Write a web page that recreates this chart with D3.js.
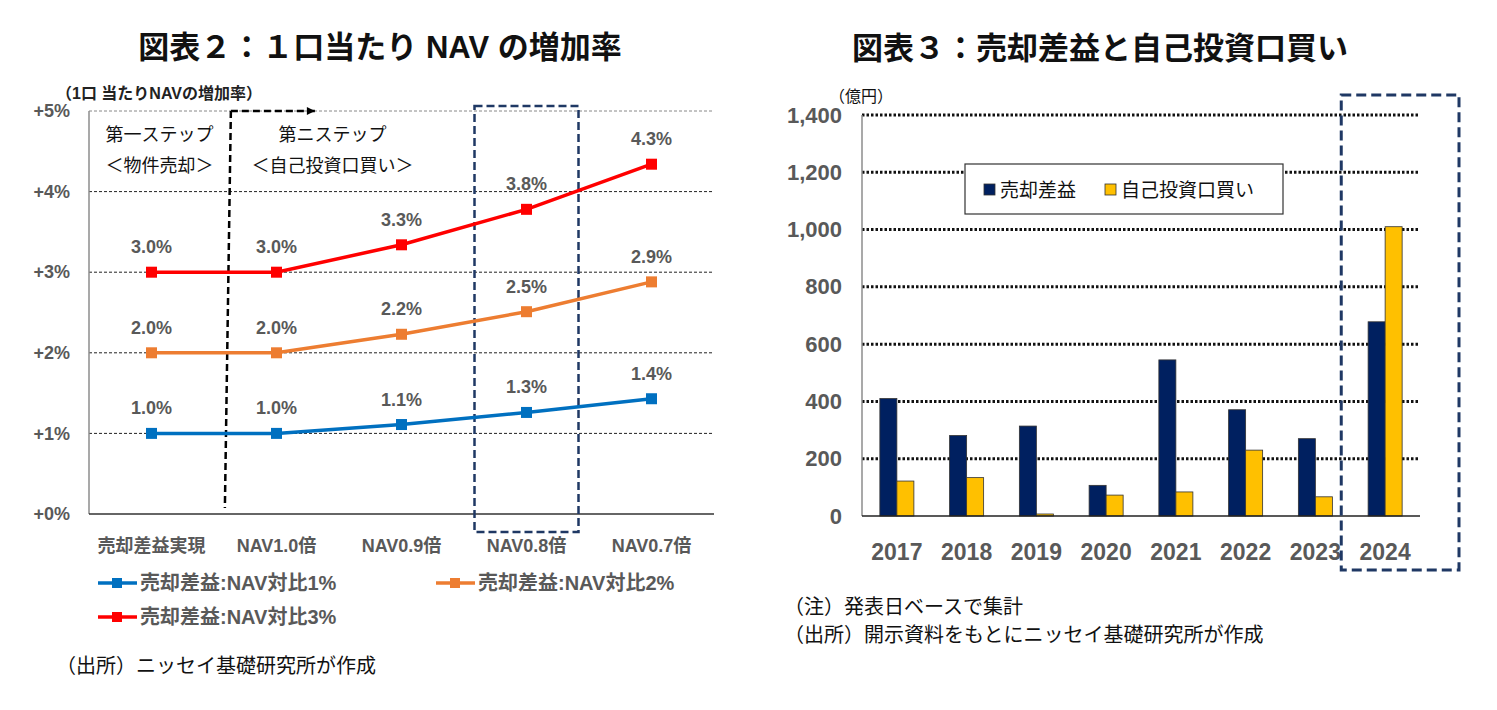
<!DOCTYPE html>
<html>
<head>
<meta charset="utf-8">
<script src="https://cdn.jsdelivr.net/npm/d3@7"></script>
<style>
  body { margin: 0; background: #fff; }
  text { font-family: "Liberation Sans", "Noto Sans CJK JP", sans-serif; }
</style>
</head>
<body>
<div id="chart"></div>
<script>
// left chart: NAV per unit increase
const stepCats = ["売却差益実現", "NAV1.0倍", "NAV0.9倍", "NAV0.8倍", "NAV0.7倍"];
const seriesNames = ["売却差益:NAV対比1%", "売却差益:NAV対比2%", "売却差益:NAV対比3%"];
const rate1 = [1.0, 1.0, 1.11, 1.26, 1.43];
const rate2 = [2.0, 2.0, 2.23, 2.51, 2.88];
const rate3 = [3.0, 3.0, 3.34, 3.78, 4.34];
const pctTicks = [0, 1, 2, 3, 4, 5];

// right chart: gain on sale vs buyback (億円)
const years = ["2017", "2018", "2019", "2020", "2021", "2022", "2023", "2024"];
const barNames = ["売却差益", "自己投資口買い"];
const gainOnSale = [410, 281, 314, 107, 545, 371, 270, 678];
const buyback = [122, 134, 7, 73, 84, 230, 67, 1010];
const yenTicks = [0, 200, 400, 600, 800, 1000, 1200, 1400];

const gray = "#595959";
const navy = "#1f3864";

const svg = d3.select("#chart").append("svg")
  .attr("width", 1497)
  .attr("height", 710);

svg.append("defs").append("marker")
  .attr("id", "arrow")
  .attr("viewBox", "0 0 10 10")
  .attr("refX", 10).attr("refY", 5)
  .attr("markerWidth", 10).attr("markerHeight", 8)
  .attr("markerUnits", "userSpaceOnUse")
  .attr("orient", "auto")
  .append("path").attr("d", "M0,0L10,5L0,10Z").attr("fill", "#000");

//---------------- LEFT CHART ----------------
const L = { left: 89, right: 714, top: 111, bottom: 514 };

svg.append("text")
  .attr("x", 380).attr("y", 58)
  .attr("text-anchor", "middle")
  .attr("font-size", 31).attr("font-weight", "bold")
  .attr("fill", "#111")
  .text("図表２：１口当たり NAV の増加率");

const xL = d3.scalePoint().domain(stepCats).range([L.left, L.right]).padding(0.5);
const yL = d3.scaleLinear().domain([0, 5]).range([L.bottom, L.top]);

// gridlines
svg.append("g").selectAll("line")
  .data(pctTicks.filter(d => d > 0))
  .join("line")
  .attr("x1", L.left).attr("x2", L.right)
  .attr("y1", d => yL(d)).attr("y2", d => yL(d))
  .attr("stroke", d => d == 5 ? "#888" : "#222")
  .attr("stroke-width", 1)
  .attr("stroke-dasharray", "3,2");

// axes lines
svg.append("line")
  .attr("x1", L.left).attr("x2", L.left)
  .attr("y1", yL(5)).attr("y2", yL(0))
  .attr("stroke", "#8c8c8c").attr("stroke-width", 1.5);
svg.append("line")
  .attr("x1", L.left).attr("x2", L.right)
  .attr("y1", yL(0)).attr("y2", yL(0))
  .attr("stroke", "#333").attr("stroke-width", 1.5);

const yAxisL = d3.axisLeft(yL).tickValues(pctTicks).tickSize(0).tickPadding(19)
  .tickFormat(d => "+" + d + "%");
svg.append("g")
  .attr("transform", "translate(" + L.left + ",0)")
  .call(yAxisL)
  .call(g => g.select(".domain").remove())
  .selectAll("text")
  .attr("font-size", 18).attr("font-weight", "bold").attr("fill", gray)
  .attr("font-family", "Liberation Sans, Noto Sans CJK JP");

svg.selectAll(".xlab")
  .data(stepCats)
  .join("text")
  .attr("class", "xlab")
  .attr("x", d => xL(d)).attr("y", 552)
  .attr("text-anchor", "middle")
  .attr("font-size", 18).attr("font-weight", "bold").attr("fill", gray)
  .text(d => d);

svg.append("text")
  .attr("x", 56).attr("y", 99)
  .attr("font-size", 16).attr("font-weight", "bold").attr("fill", "#222")
  .text("（1口 当たりNAVの増加率）");

// step annotations
const stepX = xL(stepCats[0]) + xL.step() * 0.635;
svg.append("line")
  .attr("x1", stepX).attr("y1", yL(5))
  .attr("x2", stepX - 6).attr("y2", yL(0) - 6)
  .attr("stroke", "#000").attr("stroke-width", 2.5)
  .attr("stroke-dasharray", "7,4");
svg.append("line")
  .attr("x1", stepX).attr("y1", yL(5))
  .attr("x2", stepX + 84).attr("y2", yL(5))
  .attr("stroke", "#000").attr("stroke-width", 2.5)
  .attr("stroke-dasharray", "7,4")
  .attr("marker-end", "url(#arrow)");

const stepTexts = [
  ["第一ステップ", "＜物件売却＞", xL(stepCats[0]) + 8],
  ["第ニステップ", "＜自己投資口買い＞", xL(stepCats[1]) + 56]
];
stepTexts.forEach(s => {
  svg.append("text").attr("x", s[2]).attr("y", 141)
    .attr("text-anchor", "middle").attr("font-size", 18).attr("fill", "#111").text(s[0]);
  svg.append("text").attr("x", s[2]).attr("y", 172)
    .attr("text-anchor", "middle").attr("font-size", 18).attr("fill", "#111").text(s[1]);
});

// highlight box around NAV0.8倍
svg.append("rect")
  .attr("x", xL("NAV0.8倍") - 52).attr("y", yL(5) - 5)
  .attr("width", 104).attr("height", 532 - yL(5) + 5)
  .attr("fill", "none").attr("stroke", navy).attr("stroke-width", 2.5)
  .attr("stroke-dasharray", "8,4");

// lines
const seriesL = [
  { name: seriesNames[0], values: rate1, color: "#0070c0" },
  { name: seriesNames[1], values: rate2, color: "#ed7d31" },
  { name: seriesNames[2], values: rate3, color: "#ff0000" }
];
const line = d3.line().x((d, i) => xL(stepCats[i])).y(d => yL(d));

seriesL.forEach(s => {
  svg.append("path")
    .attr("d", line(s.values))
    .attr("fill", "none").attr("stroke", s.color).attr("stroke-width", 3.5);
  svg.append("g").selectAll("rect")
    .data(s.values)
    .join("rect")
    .attr("x", (d, i) => xL(stepCats[i]) - 5.5)
    .attr("y", d => yL(d) - 5.5)
    .attr("width", 11).attr("height", 11)
    .attr("fill", s.color);
  svg.append("g").selectAll("text")
    .data(s.values)
    .join("text")
    .attr("x", (d, i) => xL(stepCats[i]))
    .attr("y", d => yL(d) - 19)
    .attr("text-anchor", "middle")
    .attr("font-size", 18).attr("font-weight", "bold").attr("fill", gray)
    .text(d => d3.format(".1f")(d) + "%");
});

// legend
const legPos = [[98, 583], [436, 583], [98, 617]];
seriesL.forEach((s, i) => {
  const g = svg.append("g").attr("transform", "translate(" + legPos[i][0] + "," + legPos[i][1] + ")");
  g.append("line").attr("x1", 0).attr("x2", 39).attr("y1", 0).attr("y2", 0)
    .attr("stroke", s.color).attr("stroke-width", 3.5);
  g.append("rect").attr("x", 14).attr("y", -5).attr("width", 10).attr("height", 10).attr("fill", s.color);
  g.append("text").attr("x", 42).attr("y", 7)
    .attr("font-size", 20).attr("font-weight", "bold").attr("fill", gray)
    .text(s.name);
});

svg.append("text")
  .attr("x", 56).attr("y", 673)
  .attr("font-size", 20).attr("fill", "#111")
  .text("（出所）ニッセイ基礎研究所が作成");

//---------------- RIGHT CHART ----------------
const R = { left: 862, right: 1420, top: 115, bottom: 516 };

svg.append("text")
  .attr("x", 1100).attr("y", 59)
  .attr("text-anchor", "middle")
  .attr("font-size", 31).attr("font-weight", "bold")
  .attr("fill", "#111")
  .text("図表３：売却差益と自己投資口買い");

const x0 = d3.scaleBand().domain(years).range([R.left, R.right]);
const x1 = d3.scaleBand().domain(barNames).range([0, x0.bandwidth()]).paddingOuter(1.05);
const yR = d3.scaleLinear().domain([0, 1400]).range([R.bottom, R.top]);

svg.append("g").selectAll("line")
  .data(yenTicks.filter(d => d > 0))
  .join("line")
  .attr("x1", R.left).attr("x2", R.right)
  .attr("y1", d => yR(d)).attr("y2", d => yR(d))
  .attr("stroke", "#111").attr("stroke-width", 3)
  .attr("stroke-dasharray", "2.5,2");

svg.append("line")
  .attr("x1", R.left).attr("x2", R.left)
  .attr("y1", yR(1400)).attr("y2", yR(0))
  .attr("stroke", "#8c8c8c").attr("stroke-width", 1.5);

const yAxisR = d3.axisLeft(yR).tickValues(yenTicks).tickSize(0).tickPadding(20)
  .tickFormat(d3.format(","));
svg.append("g")
  .attr("transform", "translate(" + R.left + ",0)")
  .call(yAxisR)
  .call(g => g.select(".domain").remove())
  .selectAll("text")
  .attr("font-size", 22).attr("font-weight", "bold").attr("fill", gray)
  .attr("font-family", "Liberation Sans, Noto Sans CJK JP");

svg.append("text")
  .attr("x", 829).attr("y", 102)
  .attr("font-size", 16).attr("fill", "#111")
  .text("（億円）");

const barData = years.map((y, i) => ({ year: y, vals: [gainOnSale[i], buyback[i]] }));
const barColors = ["#002060", "#ffc000"];

svg.append("g").selectAll("g")
  .data(barData)
  .join("g")
  .attr("transform", d => "translate(" + x0(d.year) + ",0)")
  .selectAll("rect")
  .data(d => d.vals.map((v, k) => ({ key: barNames[k], v: v, k: k })))
  .join("rect")
  .attr("x", d => x1(d.key))
  .attr("y", d => yR(d.v))
  .attr("width", x1.bandwidth())
  .attr("height", d => yR(0) - yR(d.v))
  .attr("fill", d => barColors[d.k])
  .attr("stroke", "#333").attr("stroke-width", 0.8);

svg.append("line")
  .attr("x1", R.left).attr("x2", R.right)
  .attr("y1", yR(0)).attr("y2", yR(0))
  .attr("stroke", "#222").attr("stroke-width", 1.5);

svg.selectAll(".ylab")
  .data(years)
  .join("text")
  .attr("class", "ylab")
  .attr("x", d => x0(d) + x0.bandwidth() / 2).attr("y", 560)
  .attr("text-anchor", "middle")
  .attr("font-size", 23).attr("font-weight", "bold").attr("fill", gray)
  .text(d => d);

// highlight box around 2024
svg.append("rect")
  .attr("x", x0("2024") - 9).attr("y", 95)
  .attr("width", x0.bandwidth() + 48).attr("height", 475)
  .attr("fill", "none").attr("stroke", navy).attr("stroke-width", 3)
  .attr("stroke-dasharray", "10,5");

// legend
const lg = svg.append("g").attr("transform", "translate(965,164)");
lg.append("rect").attr("width", 318).attr("height", 50)
  .attr("fill", "#fff").attr("stroke", "#333").attr("stroke-width", 1.2);
const legX = [19, 140];
barNames.forEach((n, k) => {
  lg.append("rect").attr("x", legX[k]).attr("y", 20).attr("width", 11).attr("height", 11)
    .attr("fill", barColors[k]).attr("stroke", "#333").attr("stroke-width", 0.8);
  lg.append("text").attr("x", legX[k] + 16).attr("y", 33)
    .attr("font-size", 19).attr("fill", "#111").text(n);
});

svg.append("text")
  .attr("x", 784).attr("y", 614)
  .attr("font-size", 20).attr("fill", "#111")
  .text("（注）発表日ベースで集計");
svg.append("text")
  .attr("x", 784).attr("y", 642)
  .attr("font-size", 20).attr("fill", "#111")
  .text("（出所）開示資料をもとにニッセイ基礎研究所が作成");
</script>
</body>
</html>
